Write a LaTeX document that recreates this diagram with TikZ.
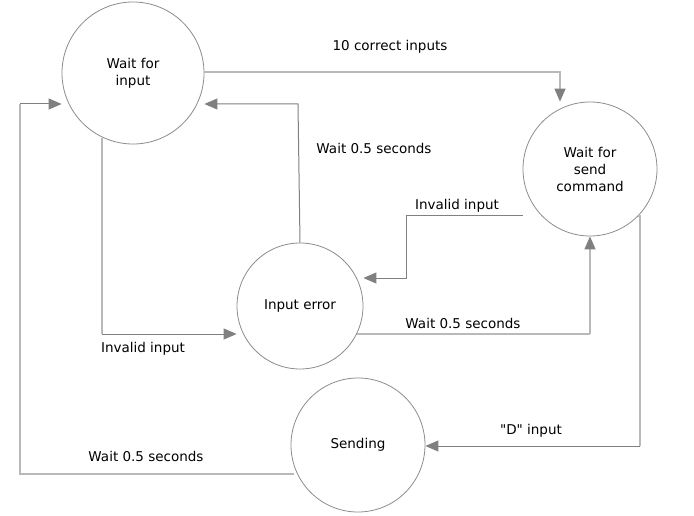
\documentclass[tikz,border=0pt]{standalone}
\usepackage{fontspec}
\setmainfont{DejaVu Sans}
\usetikzlibrary{arrows.meta}
\definecolor{darkln}{RGB}{128,128,128}
\definecolor{lightln}{RGB}{185,185,185}
\definecolor{circln}{RGB}{140,140,140}
\newcommand{\sdq}{\XeTeXglyph\XeTeXcharglyph"22\relax}
\begin{document}
\begin{tikzpicture}[x=1pt,y=-1pt,
  state/.style={circle,draw=circln,line width=0.8pt,fill=white,inner sep=0pt,align=center,font=\fontsize{13.5}{17}\selectfont},
  lbl/.style={font=\fontsize{13.5}{15}\selectfont,inner sep=0pt,anchor=center},
  dk/.style={draw=darkln,line width=1pt},
  lt/.style={draw=lightln,line width=1.3pt},
  arr/.style={-{Triangle[length=13pt,width=11pt,color=darkln,fill=darkln]}}]
\useasboundingbox[fill=white] (0,0) rectangle (694,516);
\node[state,minimum size=142pt] (wi) at (133,73) {Wait for\\input};
\node[state,minimum size=134pt] (ws) at (590,169) {Wait for\\send\\command};
\node[state,minimum size=126pt] (ie) at (300,306) {Input error};
\node[state,minimum size=134pt] (se) at (358,445) {Sending};
\coordinate (a1) at (560,72);
\coordinate (b1) at (298,104);
\coordinate (c1) at (406,216);
\coordinate (c2) at (406,278);
\coordinate (d1) at (590,334);
\coordinate (e1) at (102,334);
\coordinate (f1) at (640,216);
\coordinate (f2) at (640,446);
\coordinate (g1) at (20,474);
\coordinate (g2) at (20,104);
% wait for input -> wait for send
\draw[lt,arr] (wi.east |- a1) -- (a1) -- (a1 |- ws.north);
% input error -> wait for input
\draw[dk,arr] (ie.north) -- (b1) -- (b1 -| wi.east);
% invalid input from ws
\draw[dk,arr] (c1 -| ws.west) -- (c1) -- (c2) -- (c2 -| ie.east);
% wait 0.5 from ie to ws
\draw[lt] (ie.east |- d1) ++(-6,0) -- (d1);
\draw[lt,arr] (d1) -- (ws.south);
% invalid input from wi to ie
\draw[lt] (e1 |- wi.south) ++(0,-6) -- (e1);
\draw[dk,arr] (e1) -- (e1 -| ie.west);
% D input
\draw[lt] (f1) ++(-2,0) -- (f1) -- (f2);
\draw[dk,arr] (f2) -- (f2 -| se.east);
% sending -> wait for input
\draw[lt] (g1 -| se.west) ++(3,0) -- (g1) -- (g2);
\draw[dk,arr] (g2) -- (g2 -| wi.west);
\node[lbl] (l1) at (390,47) {10 correct inputs};
\node[lbl] (l2) at (374,148) {Wait 0.5 seconds};
\node[lbl] (l3) at (457,206) {Invalid input};
\node[lbl] (l4) at (463,323) {Wait 0.5 seconds};
\node[lbl] (l5) at (143,349) {Invalid input};
\node[lbl] (l6) at (531,431) {\sdq D\sdq{} input};
\node[lbl] (l7) at (146,456) {Wait 0.5 seconds};
\end{tikzpicture}
\end{document}
